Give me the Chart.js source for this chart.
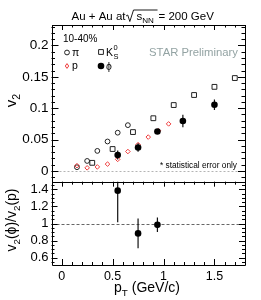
<!DOCTYPE html>
<html>
<head>
<meta charset="utf-8">
<script src="https://cdn.jsdelivr.net/npm/chart.js@4.4.1/dist/chart.umd.min.js"></script>
<style>
  html, body { margin: 0; padding: 0; background: #fff; }
  #wrap { width: 261px; height: 300px; }
</style>
</head>
<body>
<div id="wrap"><canvas id="v2Chart" width="261" height="300"></canvas></div>
<script>
const FONT = "'Liberation Sans', Arial, Helvetica, sans-serif";
const _RED = '#ee3b3b';
const _INK = '#222';

// tick labels
const xTicks = [0, 0.5, 1, 1.5];
const v2Ticks = [0, 0.05, 0.1, 0.15, 0.2];
const ratioTicks = [0.6, 0.8, 1, 1.2, 1.4];

// pions
const piPt = [0.15, 0.25, 0.35, 0.45, 0.55, 0.65];
const piV2 = [0.006, 0.016, 0.032, 0.047, 0.061, 0.073];
// K0S
const ksPt = [0.30, 0.50, 0.70, 0.90, 1.10, 1.30, 1.50, 1.70];
const ksV2 = [0.013, 0.035, 0.062, 0.084, 0.105, 0.121, 0.134, 0.148];
// protons
const pPt = [0.15, 0.25, 0.35, 0.45, 0.55, 0.65, 0.75, 0.85, 0.95, 1.05];
const pV2 = [0.0085, 0.005, 0.0065, 0.011, 0.0185, 0.031, 0.042, 0.054, 0.064, 0.075];
// phi
const phiPt = [0.55, 0.75, 0.94, 1.19, 1.50];
const phiV2 = [0.0255, 0.0375, 0.063, 0.0795, 0.1055];
const phiErr = [0.007, 0.007, 0.004, 0.010, 0.0085];
// ratio v2(phi)/v2(p)
const ratioPt = [0.55, 0.75, 0.94];
const ratioVal = [1.385, 0.885, 0.985];
const ratioErr = [0.37, 0.175, 0.085];

function toPoints(xs, ys) {
    return xs.map((x, i) => ({x: x, y: ys[i]}));
}

function fixedTicks(values) {
    return function (scale) {
        scale.ticks = values.map(v => ({value: v}));
    };
}

// draw text made of plain / sub / sup pieces
function drawRich(ctx, parts, x, y, size, align) {
    const small = size * 0.7;
    let total = 0;
    for (const p of parts) {
        ctx.font = (p[1] ? small : size) + 'px ' + FONT;
        total += ctx.measureText(p[0]).width;
    }
    let cx = align === 'center' ? x - total / 2 : (align === 'right' ? x - total : x);
    ctx.textAlign = 'left';
    ctx.textBaseline = 'alphabetic';
    for (const p of parts) {
        ctx.font = (p[1] ? small : size) + 'px ' + FONT;
        let dy = 0;
        if (p[1] === 'sub') dy = size * 0.28;
        if (p[1] === 'sup') dy = -size * 0.4;
        ctx.fillText(p[0], cx, y + dy);
        cx += ctx.measureText(p[0]).width;
    }
}

function marker(ctx, style, x, y) {
    ctx.save();
    ctx.lineWidth = 1;
    ctx.beginPath();
    if (style === 'pi') {
        ctx.strokeStyle = _INK;
        ctx.arc(x, y, 2.4, 0, Math.PI * 2);
        ctx.stroke();
    } else if (style === 'ks') {
        ctx.strokeStyle = _INK;
        ctx.rect(x - 2.4, y - 2.4, 4.8, 4.8);
        ctx.stroke();
    } else if (style === 'p') {
        ctx.strokeStyle = _RED;
        ctx.moveTo(x, y - 2.4); ctx.lineTo(x + 1.7, y); ctx.lineTo(x, y + 2.4); ctx.lineTo(x - 1.7, y);
        ctx.closePath();
        ctx.stroke();
    } else {
        ctx.fillStyle = '#000';
        ctx.arc(x, y, 3.3, 0, Math.PI * 2);
        ctx.fill();
    }
    ctx.restore();
}

// error bars, clipped to their own panel
const errorBars = {
    id: 'errorBars',
    beforeDatasetsDraw(chart) {
        const ctx = chart.ctx;
        const xs = chart.scales.x;
        // reference lines
        ctx.save();
        ctx.lineWidth = 1;
        ctx.strokeStyle = '#b4b4b4';
        ctx.setLineDash([2, 2]);
        let y0 = Math.round(chart.scales.y.getPixelForValue(0)) + 0.5;
        ctx.beginPath(); ctx.moveTo(xs.left, y0); ctx.lineTo(xs.right, y0); ctx.stroke();
        ctx.strokeStyle = '#666';
        ctx.setLineDash([3, 2]);
        let y1 = Math.round(chart.scales.yRatio.getPixelForValue(1)) + 0.5;
        ctx.beginPath(); ctx.moveTo(xs.left, y1); ctx.lineTo(xs.right, y1); ctx.stroke();
        ctx.restore();

        chart.data.datasets.forEach((ds, i) => {
            if (!ds.errY) return;
            const ys = chart.scales[ds.yAxisID];
            ctx.save();
            ctx.beginPath();
            ctx.rect(xs.left, ys.top, xs.width, ys.height);
            ctx.clip();
            ctx.strokeStyle = '#111';
            ctx.lineWidth = 1.2;
            ds.data.forEach((pt, j) => {
                const px = xs.getPixelForValue(pt.x);
                ctx.beginPath();
                ctx.moveTo(px, ys.getPixelForValue(pt.y - ds.errY[j]));
                ctx.lineTo(px, ys.getPixelForValue(pt.y + ds.errY[j]));
                ctx.stroke();
            });
            ctx.restore();
        });
    }
};

// ROOT style frame, inner ticks, titles and legend
const decorations = {
    id: 'decorations',
    afterDraw(chart) {
        const ctx = chart.ctx;
        const xs = chart.scales.x, ys = chart.scales.y, rs = chart.scales.yRatio;
        const L = xs.left, R = xs.right;
        ctx.save();
        ctx.strokeStyle = '#000';
        ctx.lineWidth = 1;
        const snap = v => Math.round(v) + 0.5;
        ctx.beginPath();
        ctx.rect(snap(L), snap(ys.top), snap(R) - snap(L), snap(ys.bottom) - snap(ys.top));
        ctx.rect(snap(L), snap(rs.top), snap(R) - snap(L), snap(rs.bottom) - snap(rs.top));
        // y ticks
        const yTickMarks = (scale, from, to, step, majorEvery, lenMaj, lenMin) => {
            for (let k = Math.round(from / step); k <= Math.round(to / step); k++) {
                const v = k * step;
                if (v < scale.min || v > scale.max) continue;
                const len = (Math.round(v / step) % majorEvery === 0) ? lenMaj : lenMin;
                const py = snap(scale.getPixelForValue(v));
                ctx.moveTo(L, py); ctx.lineTo(L + len, py);
                ctx.moveTo(R, py); ctx.lineTo(R - len, py);
            }
        };
        yTickMarks(ys, -0.01, 0.23, 0.01, 5, 7, 3.5);
        yTickMarks(rs, 0.55, 1.45, 0.05, 4, 6, 3);
        // x ticks
        for (let k = -1; k <= 18; k++) {
            const v = k / 10;
            const px = snap(xs.getPixelForValue(v));
            const major = k % 5 === 0;
            ctx.moveTo(px, ys.top); ctx.lineTo(px, ys.top + (major ? 5 : 2.5));
            ctx.moveTo(px, rs.top); ctx.lineTo(px, rs.top + (major ? 5 : 3));
            ctx.moveTo(px, rs.bottom); ctx.lineTo(px, rs.bottom - (major ? 6 : 3));
        }
        ctx.stroke();

        // title
        ctx.fillStyle = '#000';
        ctx.font = '11.5px ' + FONT;
        ctx.textAlign = 'left';
        ctx.textBaseline = 'alphabetic';
        let tx = 71.5, ty = 20;
        ctx.fillText('Au + Au at', tx, ty);
        tx += ctx.measureText('Au + Au at').width;
        ctx.beginPath();
        ctx.lineWidth = 0.9;
        ctx.moveTo(tx + 0.5, ty - 4);
        ctx.lineTo(tx + 2.2, ty - 5);
        ctx.lineTo(tx + 4.3, ty + 1.5);
        ctx.lineTo(tx + 8, ty - 10);
        ctx.lineTo(tx + 32, ty - 10);
        ctx.stroke();
        drawRich(ctx, [['s', ''], ['NN', 'sub']], tx + 11, ty, 11.5, 'left');
        ctx.font = '11.5px ' + FONT;
        ctx.fillText('= 200 GeV', tx + 33, ty);

        // axis titles
        drawRich(ctx, [['p', ''], ['T', 'sub'], [' (GeV/c)', '']], 147, 292, 14, 'center');
        ctx.save();
        ctx.translate(16, 100.5);
        ctx.rotate(-Math.PI / 2);
        drawRich(ctx, [['v', ''], ['2', 'sub']], 0, 0, 15, 'center');
        ctx.restore();
        ctx.save();
        ctx.translate(16, 220);
        ctx.rotate(-Math.PI / 2);
        drawRich(ctx, [['v', ''], ['2', 'sub'], ['(\u03D5)/v', ''], ['2', 'sub'], ['(p)', '']], 0, 0, 14, 'center');
        ctx.restore();

        // legend
        ctx.font = '10px ' + FONT;
        ctx.fillText('10-40%', 63, 42);
        marker(ctx, 'pi', 67, 52.5);
        marker(ctx, 'ks', 101, 52);
        marker(ctx, 'p', 67, 66);
        marker(ctx, 'phi', 101, 66);
        ctx.fillStyle = '#000';
        ctx.font = '10.5px ' + FONT;
        ctx.fillText('\u03C0', 72, 56);
        ctx.fillText('p', 72, 69);
        ctx.fillText('\u03D5', 106, 70);
        ctx.fillText('K', 106, 56);
        ctx.font = '7.5px ' + FONT;
        ctx.fillText('S', 113.5, 59);
        ctx.fillText('0', 113.5, 50);

        ctx.fillStyle = '#93a3a3';
        ctx.font = '11.3px ' + FONT;
        ctx.textAlign = 'right';
        ctx.fillText('STAR Preliminary', 238, 55.5);
        ctx.fillStyle = '#000';
        ctx.font = '8.3px ' + FONT;
        ctx.fillText('* statistical error only', 237, 167.5);
        ctx.restore();
    }
};

const tickFont = size => ({family: FONT, size: size});

let ctx = document.getElementById('v2Chart').getContext('2d');
let v2Chart = new Chart(ctx, {
    type: 'scatter',
    data: {
        datasets: [{
            label: 'ratio',
            data: toPoints(ratioPt, ratioVal),
            errY: ratioErr,
            yAxisID: 'yRatio',
            pointStyle: 'circle',
            pointRadius: 3.3,
            backgroundColor: '#000',
            borderColor: '#000',
            borderWidth: 0,
        }, {
            label: 'phi',
            data: toPoints(phiPt, phiV2),
            errY: phiErr,
            yAxisID: 'y',
            pointStyle: 'circle',
            pointRadius: 3.3,
            backgroundColor: '#000',
            borderColor: '#000',
            borderWidth: 0,
        }, {
            label: 'p',
            data: toPoints(pPt, pV2),
            yAxisID: 'y',
            pointStyle: 'rectRot',
            pointRadius: 2.3,
            backgroundColor: 'rgba(0,0,0,0)',
            borderColor: _RED,
            borderWidth: 1,
        }, {
            label: 'K0S',
            data: toPoints(ksPt, ksV2),
            yAxisID: 'y',
            pointStyle: 'rect',
            pointRadius: 3.4,
            backgroundColor: 'rgba(0,0,0,0)',
            borderColor: _INK,
            borderWidth: 1,
        }, {
            label: 'pi',
            data: toPoints(piPt, piV2),
            yAxisID: 'y',
            pointStyle: 'circle',
            pointRadius: 2.4,
            backgroundColor: 'rgba(0,0,0,0)',
            borderColor: _INK,
            borderWidth: 1,
        }]
    },
    options: {
        responsive: false,
        animation: false,
        events: [],
        layout: {
            padding: {top: 25, right: 16, left: 0, bottom: 0}
        },
        plugins: {
            legend: {display: false},
            tooltip: {enabled: false},
        },
        scales: {
            x: {
                type: 'linear',
                min: -0.1,
                max: 1.8,
                grid: {display: false, drawTicks: false},
                border: {display: false},
                ticks: {font: tickFont(12.5), color: '#000', padding: 4, maxRotation: 0, autoSkip: false,
                        callback: v => String(v)},
                afterBuildTicks: fixedTicks(xTicks),
                afterFit: s => { s.height = 35; }
            },
            // left boxes are laid out in reverse order, so the lower panel comes first
            yRatio: {
                type: 'linear',
                axis: 'y',
                position: 'left',
                stack: 'panels',
                stackWeight: 1,
                min: 0.515,
                max: 1.49,
                grid: {display: false, drawTicks: false},
                border: {display: false},
                ticks: {font: tickFont(13), color: '#000', padding: 3, autoSkip: false,
                        callback: v => String(v)},
                afterBuildTicks: fixedTicks(ratioTicks),
                afterFit: s => { s.width = 51.5; }
            },
            y: {
                type: 'linear',
                position: 'left',
                stack: 'panels',
                stackWeight: 1.88,
                min: -0.017,
                max: 0.2325,
                grid: {display: false, drawTicks: false},
                border: {display: false},
                ticks: {font: tickFont(13.5), color: '#000', padding: 3, autoSkip: false,
                        callback: v => String(v)},
                afterBuildTicks: fixedTicks(v2Ticks),
                afterFit: s => { s.width = 51.5; }
            }
        }
    },
    plugins: [errorBars, decorations]
});
</script>
</body>
</html>
